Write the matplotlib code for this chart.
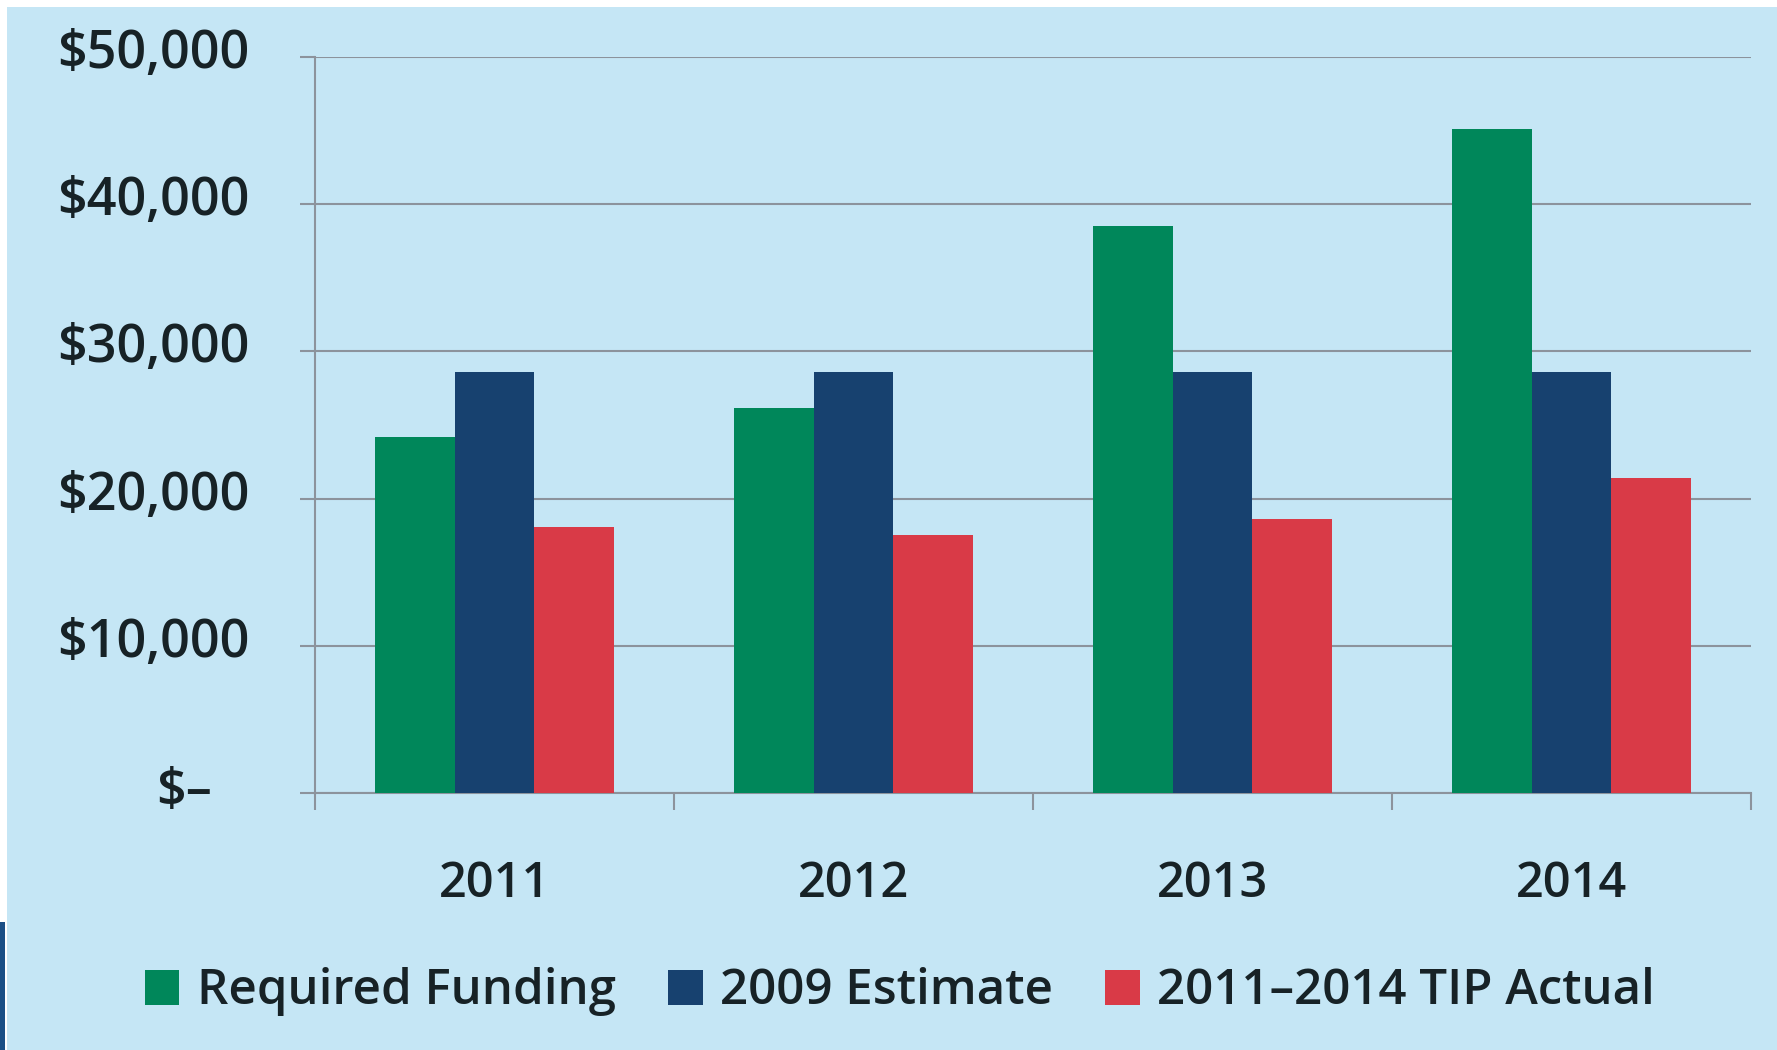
import matplotlib
matplotlib.use("Agg")
import matplotlib.pyplot as plt
import matplotlib.transforms as mtransforms
from matplotlib.patches import Rectangle
import numpy as np

years = ["2011", "2012", "2013", "2014"]
required_funding = [24200, 26150, 38500, 45100]
estimate_2009 = [28600, 28600, 28600, 28600]
tip_actual = [18100, 17500, 18600, 21400]
series_names = ["Required Funding", "2009 Estimate", "2011\u20132014 TIP Actual"]
ytick_values = [0, 10000, 20000, 30000, 40000, 50000]
ytick_labels = ["$\u2013", "$10,000", "$20,000", "$30,000", "$40,000", "$50,000"]

colors = ["#00875A", "#17416F", "#D93A47"]
bg = "#C5E6F5"
txt = "#172226"
grid_c = "#8C939C"

plt.rcParams['font.family'] = ['Open Sans', 'DejaVu Sans']
plt.rcParams['font.weight'] = 'semibold'

W, H = 1777, 1050
fig = plt.figure(figsize=(W / 100, H / 100), dpi=100)
fig.patch.set_facecolor("white")
# background panel (white margin at top and left edges)
fig.patches.append(Rectangle((7 / W, 0), 1 - 7 / W, 1 - 7 / H, transform=fig.transFigure,
                             facecolor=bg, edgecolor="none", zorder=-10))
fig.patches.append(Rectangle((0, 0), 5 / W, 128 / H, transform=fig.transFigure,
                             facecolor="#1B4F86", edgecolor="none", zorder=-9))

ax = fig.add_axes([315 / W, 1 - 793 / H, (1751 - 315) / W, (793 - 57) / H])
ax.set_facecolor("none")

x = np.arange(len(years))
bw = 0.222
for i, (vals, c, name) in enumerate(zip([required_funding, estimate_2009, tip_actual], colors, series_names)):
    ax.bar(x + (i - 1) * bw, vals, width=bw, color=c, label=name, zorder=3, linewidth=0)

ax.set_xlim(-0.5, len(years) - 0.5)
ax.set_ylim(0, 50000)

ax.set_yticks(ytick_values)
ax.set_yticklabels(ytick_labels)
ax.yaxis.grid(True, color=grid_c, linewidth=1.5, zorder=1)
ax.tick_params(axis='y', length=11, width=1.5, color=grid_c, pad=36, labelsize=37.5, labelcolor=txt)

ax.set_xticks(x)
ax.set_xticklabels(years)
ax.set_xticks(np.arange(-0.5, len(years)), minor=True)
ax.tick_params(axis='x', which='major', length=0, pad=48, labelsize=35, labelcolor=txt)
ax.tick_params(axis='x', which='minor', length=12, width=1.5, color=grid_c)

for s in ["top", "right"]:
    ax.spines[s].set_visible(False)
for s in ["left", "bottom"]:
    ax.spines[s].set_color(grid_c)
    ax.spines[s].set_linewidth(1.5)
    ax.spines[s].set_zorder(2)

# shift y tick labels slightly up; zero label centered further left
up = mtransforms.ScaledTranslation(0, 9 / 100, fig.dpi_scale_trans)
for lab in ax.get_yticklabels():
    lab.set_transform(lab.get_transform() + up)
lab0 = ax.get_yticklabels()[0]
lab0.set_horizontalalignment('center')
lab0.set_transform(lab0.get_transform() + mtransforms.ScaledTranslation(-66 / 100, -2 / 100, fig.dpi_scale_trans))

leg = fig.legend(loc='center', bbox_to_anchor=(900 / W, 1 - 992 / H), ncol=3, frameon=False,
                 prop={'size': 35.5, 'weight': 'semibold'}, handlelength=0.7, handleheight=0.7,
                 handletextpad=0.36, columnspacing=1.05, labelcolor=txt)

fig.savefig("out.png", dpi=100, facecolor=fig.get_facecolor())
